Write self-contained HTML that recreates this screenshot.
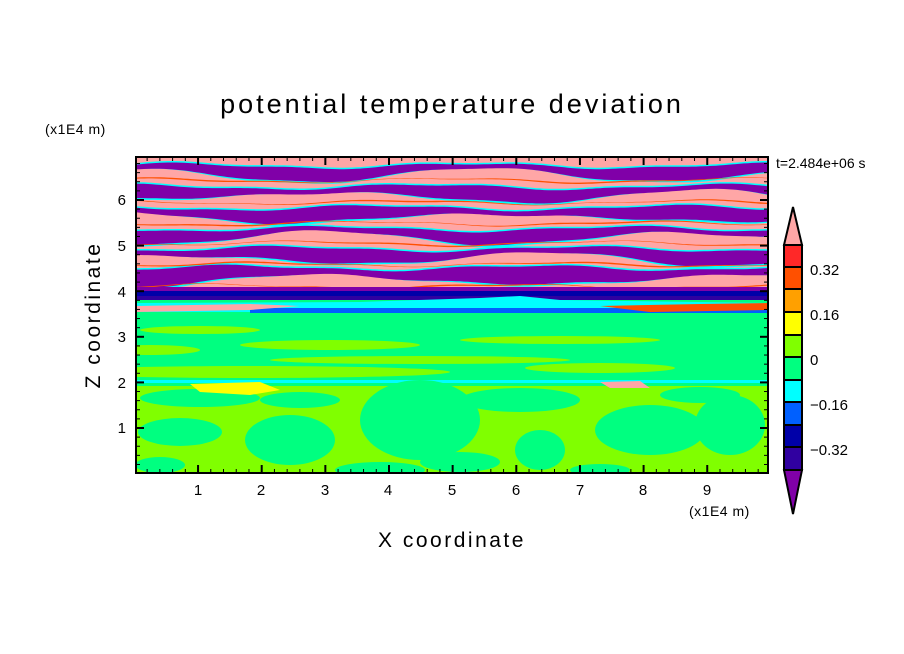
<!DOCTYPE html>
<html><head><meta charset="utf-8"><style>
body{margin:0;background:#fff;width:904px;height:654px;overflow:hidden}
svg{display:block}
text{font-family:"Liberation Sans",sans-serif;fill:#000}
</style></head><body>
<svg id="s" width="904" height="654" viewBox="0 0 904 654" xmlns="http://www.w3.org/2000/svg">
<defs><clipPath id="cp"><rect x="136" y="157" width="632" height="316"/></clipPath></defs>
<g id="plot" clip-path="url(#cp)">
<rect x="136" y="157" width="632" height="316" fill="#00ff80"/>
<rect x="136" y="157" width="632" height="143" fill="#ffa6a6"/>
</g>
<rect x="136" y="157" width="632" height="316" fill="none" stroke="#000" stroke-width="2"/>
<g id="ticks" stroke="#000"></g>
<text x="452" y="113" font-size="27" text-anchor="middle" letter-spacing="3">potential temperature deviation</text>
<text x="45" y="134" font-size="14" letter-spacing="0.5">(x1E4 m)</text>
<text x="689" y="516" font-size="14" letter-spacing="0.5">(x1E4 m)</text>
<text x="776" y="168" font-size="14">t=2.484e+06 s</text>
<text x="452" y="547" font-size="21" text-anchor="middle" letter-spacing="2.5">X coordinate</text>
<text transform="translate(100,315) rotate(-90)" font-size="21" text-anchor="middle" letter-spacing="2.5">Z coordinate</text>
<g font-size="15" text-anchor="middle">
<text x="198" y="495">1</text><text x="261" y="495">2</text><text x="325" y="495">3</text><text x="388" y="495">4</text><text x="452" y="495">5</text><text x="516" y="495">6</text><text x="580" y="495">7</text><text x="643" y="495">8</text><text x="707" y="495">9</text>
</g>
<g font-size="15" text-anchor="end">
<text x="126" y="433">1</text><text x="126" y="388">2</text><text x="126" y="342">3</text><text x="126" y="297">4</text><text x="126" y="251">5</text><text x="126" y="205">6</text>
</g>
<g stroke="#000" stroke-width="2">
<polygon points="793,207 784,245 802,245" fill="#ffa6a6"/>
<rect x="784" y="245" width="18" height="22" fill="#ff2828"/>
<rect x="784" y="267" width="18" height="22" fill="#ff5000"/>
<rect x="784" y="289" width="18" height="23" fill="#ffa000"/>
<rect x="784" y="312" width="18" height="23" fill="#ffff00"/>
<rect x="784" y="335" width="18" height="22" fill="#80ff00"/>
<rect x="784" y="357" width="18" height="23" fill="#00ff80"/>
<rect x="784" y="380" width="18" height="22" fill="#00ffff"/>
<rect x="784" y="402" width="18" height="23" fill="#0060ff"/>
<rect x="784" y="425" width="18" height="22" fill="#0000a8"/>
<rect x="784" y="447" width="18" height="23" fill="#3000a0"/>
<polygon points="784,470 802,470 793,514" fill="#8000a8"/>
</g>
<g font-size="15">
<text x="810" y="275">0.32</text><text x="810" y="320">0.16</text><text x="810" y="365">0</text><text x="810" y="410">−0.16</text><text x="810" y="455">−0.32</text>
</g>
</svg>
<script>
var NS="http://www.w3.org/2000/svg",p=document.getElementById("plot");
function el(t,a){var e=document.createElementNS(NS,t);for(var k in a)e.setAttribute(k,a[k]);p.appendChild(e);return e;}
function band(y0,h,col,ph,amp){var top=[],bot=[];for(var x=136;x<=768;x+=4){var w=Math.sin(x/47+ph)*amp+Math.sin(x/19+ph*2)*amp*0.4;var hh=h*(0.75+0.4*Math.sin(x/61+ph*3));top.push(x+","+(y0+w).toFixed(1));bot.unshift(x+","+(y0+w+hh).toFixed(1));}
el("polygon",{points:top.concat(bot).join(" "),fill:col});}
var bands=[[166,12,1],[187,13,2],[208,13,3],[229,12,4],[249,13,5],[268,16,6]];
bands.forEach(function(b){band(b[0]-1.5,b[1]+3,"#00ffff",b[2],2.5);band(b[0],b[1],"#8000a8",b[2],2.5);});
bands.forEach(function(b){band(b[0]+b[1]+2,1.2,"#ff5000",b[2]+0.5,2);});
el("rect",{x:136,y:287,width:632,height:6,fill:"#8000a8"});
el("rect",{x:136,y:291,width:632,height:9,fill:"#0000a8"});
el("rect",{x:136,y:296,width:632,height:4,fill:"#3000a0"});
el("polygon",{points:"136,303 360,302 480,298 520,296 560,300 768,303 768,312 136,312",fill:"#00ffff"});
el("rect",{x:250,y:308,width:518,height:5,fill:"#0060ff"});
el("polygon",{points:"136,306 250,304 300,306 250,310 136,312",fill:"#ffa6a6"});
el("polygon",{points:"600,306 700,304 768,303 768,310 650,312",fill:"#ff5000"});
var lime="#80ff00";
[[200,330,120,4],[330,345,180,5],[560,340,200,4],[150,350,100,5],[420,360,300,4],[250,372,400,6],[600,368,150,5]].forEach(function(a){el("ellipse",{cx:a[0],cy:a[1],rx:a[2]/2,ry:a[3],fill:lime});});
el("rect",{x:136,y:380,width:632,height:3,fill:"#00ffff"});
el("polygon",{points:"136,386 768,386 768,473 136,473",fill:lime});
var g="#00ff80";
[[200,398,60,9],[180,432,42,14],[290,440,45,25],[420,420,60,40],[520,400,60,12],[540,450,25,20],[650,430,55,25],[730,425,35,30],[460,462,40,10],[380,470,45,8],[160,465,25,8],[600,470,30,6],[300,400,40,8],[700,395,40,8]].forEach(function(a){el("ellipse",{cx:a[0],cy:a[1],rx:a[2],ry:a[3],fill:g});});
el("polygon",{points:"190,384 260,382 280,390 250,395 200,392",fill:"#ffff00"});
el("polygon",{points:"600,382 640,381 650,388 610,388",fill:"#ffa6a6"});
var t=document.getElementById("ticks");
function ln(x1,y1,x2,y2,w){var e=document.createElementNS(NS,"line");e.setAttribute("x1",x1);e.setAttribute("y1",y1);e.setAttribute("x2",x2);e.setAttribute("y2",y2);e.setAttribute("stroke-width",w);t.appendChild(e);}
for(var i=1;i<=49;i++){var x=134.4+i*63.65/5;if(x>767)break;var maj=i%5==0;var L=maj?8:4;ln(x,473,x,473-L,maj?2:1);ln(x,157,x,157+L,maj?2:1);}
for(var j=1;j<=34;j++){var y=473.6-j*45.6/5;if(y<158)break;var maj=j%5==0;var L=maj?8:4;ln(136,y,136+L,y,maj?2:1);ln(768,y,768-L,y,maj?2:1);}
</script>
</body></html>
